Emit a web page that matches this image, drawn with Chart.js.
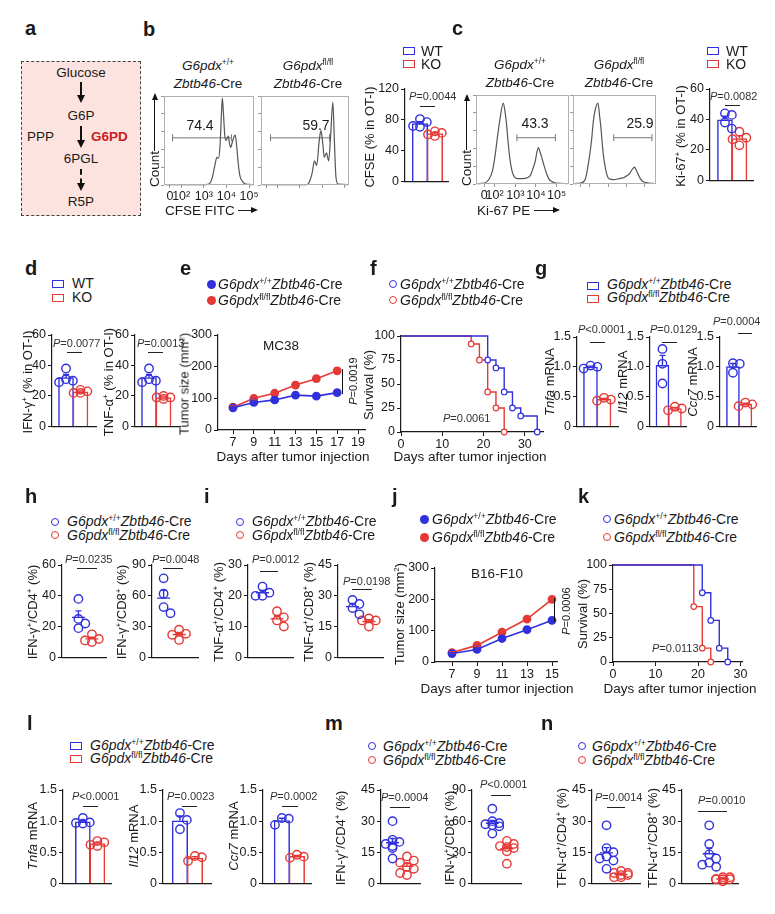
<!DOCTYPE html>
<html>
<head>
<meta charset="utf-8">
<title>G6PD deletion in cDC1 figure</title>
<script src="https://cdn.jsdelivr.net/npm/chart.js@4.4.1/dist/chart.umd.min.js"></script>
<style>
  html, body { margin: 0; padding: 0; background: #fff; }
  #fig { position: relative; width: 775px; height: 914px; overflow: hidden; background: #fff;
         font-family: 'Liberation Sans', Arial, sans-serif; color: #1a1a1a; }
  #fig sup { font-size: 0.62em; vertical-align: 0.55em; line-height: 0; }
</style>
</head>
<body>
<div id="fig"></div>
<script>
var BLUE = '#3030dc', RED = '#e53935', INK = '#1a1a1a';
var TICK_FS = 12.5;
Chart.defaults.font.family = "'Liberation Sans', Arial, sans-serif";
Chart.defaults.font.size = 13;
Chart.defaults.color = INK;

// ---- b, c : flow histograms, x in decades, y in % of max ----
var flowTicks = [1.5, 2, 3, 4, 5];
var flowTickText = ['0', '10²', '10³', '10⁴', '10⁵'];
var histTicksY = [0, 20, 40, 60, 80, 100];
var cfseWT = [[1.3,0.5],[3.1,0.5],[3.23,1],[3.37,8],[3.49,22],[3.58,31],[3.65,30],[3.72,45],[3.78,80],[3.82,98],[3.87,80],[3.93,55],[3.98,50],[4.04,53],[4.08,55],[4.14,46],[4.19,42],[4.26,48],[4.33,54],[4.39,56],[4.45,45],[4.52,25],[4.6,10],[4.71,4],[4.85,1],[5.2,0.5]];
var cfseKO = [[1.3,0.5],[3.3,0.5],[3.4,2],[3.55,13],[3.66,27],[3.76,22],[3.87,49],[3.95,61],[4.04,45],[4.1,31],[4.2,36],[4.3,27],[4.39,56],[4.49,93],[4.56,49],[4.63,9],[4.73,1],[5.2,0.5]];
var ki67WT = [[1.15,0.5],[1.5,1],[1.72,5],[1.9,15],[2.03,33],[2.15,55],[2.26,73],[2.42,91],[2.5,82],[2.57,69],[2.65,48],[2.73,30],[2.85,14],[2.96,8],[3.11,6],[3.35,6],[3.58,7],[3.74,10],[3.85,17],[3.97,26],[4.05,36],[4.12,41],[4.2,36],[4.28,30],[4.4,20],[4.51,12],[4.62,6],[4.74,3],[4.97,1],[5.5,0.5]];
var ki67KO = [[1.15,0.5],[1.5,1],[1.76,5],[1.95,25],[2.1,48],[2.2,70],[2.31,84],[2.45,91],[2.55,75],[2.62,62],[2.7,42],[2.79,26],[2.92,12],[3.05,6],[3.31,5],[3.6,6],[3.83,7],[4.0,9],[4.18,12],[4.3,16],[4.44,19],[4.52,16],[4.61,12],[4.75,6],[4.87,3],[5.21,1],[5.5,0.5]];
// gates: [from, to, height]
var gateCfseWT = [1.62, 4.22, 53], gateCfseKO = [1.67, 4.34, 53];
var gateKi67WT = [3.08, 4.94, 52], gateKi67KO = [3.31, 5.38, 52];
var gateText = ['74.4', '59.7', '43.3', '25.9'];

// ---- bar / dot panels: one value per mouse ----
var cfseBarWT = [81, 77, 72, 71], cfseBarKO = [65, 63, 61, 59];
var ki67BarWT = [44, 43, 38, 34], ki67BarKO = [32, 28, 27, 23];
var ifngOT1WT = [38, 31, 30, 29], ifngOT1KO = [24, 23, 22, 22];
var tnfaOT1WT = [38, 31, 30, 29], tnfaOT1KO = [20, 19, 19, 18];
var gTnfaWT = [1.02, 1.0, 0.97], gTnfaKO = [0.48, 0.45, 0.43];
var gIl12WT = [1.3, 1.05, 0.72], gIl12KO = [0.33, 0.30, 0.27];
var gCcr7WT = [1.06, 1.05, 0.9], gCcr7KO = [0.4, 0.37, 0.34];
var hCD4WT = [38, 25, 22, 19], hCD4KO = [15, 12, 11, 10];
var hCD8WT = [77, 62, 49, 43], hCD8KO = [27, 23, 22, 17];
var iCD4WT = [23, 21, 20, 20], iCD4KO = [15, 13, 12, 10];
var iCD8WT = [28, 26, 24, 21], iCD8KO = [19, 18, 18, 15];
var lTnfaWT = [1.05, 0.98, 0.97, 0.96], lTnfaKO = [0.68, 0.66, 0.62, 0.6];
var lIl12WT = [1.13, 1.02, 0.87], lIl12KO = [0.44, 0.42, 0.36];
var lCcr7WT = [1.05, 1.04, 0.94], lCcr7KO = [0.46, 0.43, 0.41];
var mCD4WT = [30, 21, 20, 19, 18, 17, 12], mCD4KO = [13, 11, 10, 8, 7, 5, 4];
var mCD8WT = [72, 60, 58, 57, 56, 55, 48], mCD8KO = [41, 38, 36, 35, 34, 31, 19];
var nCD4WT = [28, 17, 15, 13, 12, 11, 7], nCD4KO = [6, 5, 5, 4, 4, 3, 3];
var nCD8WT = [28, 19, 14, 12, 10, 9, 8], nCD8KO = [3, 3, 2, 2, 2, 2, 1];

// ---- e, j : tumour growth (mean, sem) ----
var mc38Days = [7, 9, 11, 13, 15, 17];
var mc38WT = [70, 87, 95, 110, 107, 118], mc38WTerr = [3, 4, 5, 4, 6, 7];
var mc38KO = [72, 100, 116, 142, 162, 187], mc38KOerr = [4, 5, 6, 8, 8, 8];
var mc38TicksX = [7, 9, 11, 13, 15, 17, 19];
var b16Days = [7, 9, 11, 13, 15];
var b16WT = [27, 40, 75, 103, 133], b16WTerr = [3, 4, 5, 8, 8];
var b16KO = [30, 53, 95, 137, 200], b16KOerr = [3, 4, 5, 6, 7];
var b16TicksX = [7, 9, 11, 13, 15];

// ---- f, k : survival ----
var fDaysWT = [0, 21, 23, 25, 27, 29, 33], fSurvWT = [100, 75, 66.7, 41.7, 25, 16.7, 0];
var fDaysKO = [0, 17, 19, 21, 23, 25], fSurvKO = [100, 91.7, 75, 41.7, 25, 0];
var kDaysWT = [0, 21, 23, 25, 27], kSurvWT = [100, 71.4, 42.9, 14.3, 0];
var kDaysKO = [0, 19, 21, 23], kSurvKO = [100, 57.1, 14.3, 0];
var survTicksX = [0, 10, 20, 30], survTicksY = [0, 25, 50, 75, 100];

// ---- y tick sets ----
var tk120 = [0, 40, 80, 120], tk60 = [0, 20, 40, 60], tk90 = [0, 30, 60, 90];
var tk30 = [0, 10, 20, 30], tk45 = [0, 15, 30, 45], tk300 = [0, 100, 200, 300];
var tk15 = [0, 0.5, 1, 1.5], tk15Text = ['0', '0.5', '1.0', '1.5'];

var fig = document.getElementById('fig');

// ---------- html helpers ----------
function el(css, html) {
  var d = document.createElement('div');
  d.style.cssText = 'position:absolute;z-index:3;' + css;
  if (html) d.innerHTML = html;
  fig.appendChild(d);
  return d;
}
function txt(x, base, html, fs, extra) {
  return el('white-space:nowrap;line-height:1;left:' + x + 'px;top:' + (base - 0.85 * fs).toFixed(1) +
    'px;font-size:' + fs + 'px;' + (extra || ''), html);
}
function ctxt(cx, base, html, fs, extra) { return txt(cx, base, html, fs, 'transform:translateX(-50%);' + (extra || '')); }
function vtxt(cx, cy, html, fs) {
  return el('white-space:nowrap;line-height:1;left:' + cx + 'px;top:' + cy + 'px;font-size:' + fs +
    'px;transform:translate(-50%,-50%) rotate(-90deg);', html);
}
function hline(x1, x2, y, w) { el('left:' + x1 + 'px;top:' + (y - w / 2) + 'px;width:' + (x2 - x1) + 'px;height:0;border-top:' + w + 'px solid #222;'); }
function vline(x, y1, y2, w, style) { el('left:' + (x - w / 2) + 'px;top:' + y1 + 'px;width:0;height:' + (y2 - y1) + 'px;border-left:' + w + 'px ' + (style || 'solid') + ' #111;'); }
function headDown(x, y) { el('left:' + (x - 4) + 'px;top:' + (y - 8) + 'px;width:0;height:0;border-left:4px solid transparent;border-right:4px solid transparent;border-top:8px solid #111;'); }
function headUp(x, y) { el('left:' + (x - 3.5) + 'px;top:' + y + 'px;width:0;height:0;border-left:3.5px solid transparent;border-right:3.5px solid transparent;border-bottom:7px solid #111;'); }
function headRight(x, y) { el('left:' + (x - 7) + 'px;top:' + (y - 3.5) + 'px;width:0;height:0;border-top:3.5px solid transparent;border-bottom:3.5px solid transparent;border-left:7px solid #111;'); }
function varrow(x, y1, y2, dashed) { vline(x, y1, y2 - 7, 2, dashed ? 'dashed' : 'solid'); headDown(x, y2); }
function pval(x, base, s) { txt(x, base, '<i>P</i>' + s, 11, 'color:#333;'); }
function letter(x, base, s) { txt(x, base, s, 20, 'font-weight:bold;'); }
function geno(sup) { return '<i>G6pdx</i><sup>' + sup + '</sup><i>Zbtb46</i>-Cre'; }
function legSq(x, y, c) { el('left:' + x + 'px;top:' + y + 'px;width:10px;height:6px;border:1.5px solid ' + c + ';'); }
function legDot(cx, cy, c, filled) {
  el('left:' + (cx - 4.5) + 'px;top:' + (cy - 4.5) + 'px;border-radius:50%;' +
    (filled ? 'width:9px;height:9px;background:' + c : 'width:6px;height:6px;border:1.5px solid ' + c) + ';');
}
function genoLegend(kind, mx, tx, y1, y2, b1, b2) {
  if (kind === 'sq') { legSq(mx, y1, BLUE); legSq(mx, y2, RED); }
  else { legDot(mx, y1, BLUE, kind === 'dot'); legDot(mx, y2, RED, kind === 'dot'); }
  txt(tx, b1, geno('+/+'), 14);
  txt(tx, b2, geno('fl/fl'), 14);
}
function wtkoLegend(mx, tx, y1, y2, b1, b2) {
  legSq(mx, y1, BLUE); legSq(mx, y2, RED);
  txt(tx, b1, 'WT', 14); txt(tx, b2, 'KO', 14);
}

// ---------- chart helpers ----------
function place(area, m) {
  var c = document.createElement('canvas');
  var w = Math.round(area[1] - area[0] + m[0] + m[1]);
  var h = Math.round(area[3] - area[2] + m[2] + m[3]);
  c.width = w; c.height = h;
  c.style.cssText = 'position:absolute;z-index:1;left:' + (area[0] - m[0]) + 'px;top:' + (area[2] - m[2]) +
    'px;width:' + w + 'px;height:' + h + 'px;';
  fig.appendChild(c);
  return c;
}
function zeroPad(s) { s.paddingLeft = 0; s.paddingRight = 0; s.paddingTop = 0; s.paddingBottom = 0; }
function baseOptions(m, scales) {
  return {
    responsive: false, animation: false, events: [],
    layout: {padding: {left: 0, right: m[1], top: m[2], bottom: 0}},
    plugins: {legend: {display: false}, tooltip: {enabled: false}},
    scales: scales
  };
}
function yAxis(ticks, labels, w, hidden) {
  return {
    type: 'linear', min: ticks[0], max: ticks[ticks.length - 1],
    afterBuildTicks: function(s) { s.ticks = ticks.map(function(v) { return {value: v}; }); },
    afterFit: function(s) { s.width = w; zeroPad(s); },
    ticks: {display: !hidden, padding: 2, color: INK, font: {size: TICK_FS}, autoSkip: false,
      callback: function(v, i) { return labels ? labels[i] : String(v); }},
    grid: {drawOnChartArea: false, drawTicks: true, tickLength: hidden ? 3 : 4, color: hidden ? '#999' : INK, lineWidth: 1},
    border: {display: !hidden, color: INK, width: 1.2}
  };
}
function xAxis(min, max, ticks, labels, h, opt) {
  opt = opt || {};
  return {
    type: 'linear', min: min, max: max, offset: false,
    afterBuildTicks: function(s) { s.ticks = ticks.map(function(v) { return {value: v}; }); },
    afterFit: function(s) { s.height = h; zeroPad(s); },
    ticks: {display: !!labels, padding: 1, color: INK, font: {size: TICK_FS}, autoSkip: false, maxRotation: 0,
      callback: function(v, i) { return labels ? labels[i] : ''; }},
    grid: {offset: false, display: !opt.noTicks, drawOnChartArea: false, drawTicks: true,
      tickLength: opt.tick || 4, color: opt.tickColor || INK, lineWidth: 1},
    border: {display: !opt.noBorder, color: INK, width: 1.2}
  };
}
function mean(a) { return a.reduce(function(s, v) { return s + v; }, 0) / a.length; }
function sem(a) {
  var m = mean(a), ss = a.reduce(function(s, v) { return s + (v - m) * (v - m); }, 0);
  return Math.sqrt(ss / (a.length - 1)) / Math.sqrt(a.length);
}
function pts(xs, ys) { return xs.map(function(x, i) { return {x: x, y: ys[i]}; }); }

// error bars / mean lines through the chart scales
function errPlugin(items, cap, meanW, both) {
  return {
    id: 'errbars',
    afterDatasetsDraw: function(chart) {
      var ctx = chart.ctx, xs = chart.scales.x, ys = chart.scales.y;
      ctx.save();
      ctx.lineWidth = 1.4;
      items.forEach(function(it) {
        var px = xs.getPixelForValue(it.x), pm = ys.getPixelForValue(it.m);
        var pt = ys.getPixelForValue(it.m + it.e), pb = ys.getPixelForValue(it.m - it.e);
        ctx.strokeStyle = it.c;
        ctx.beginPath();
        ctx.moveTo(px, both ? pb : pm); ctx.lineTo(px, pt);
        ctx.moveTo(px - cap, pt); ctx.lineTo(px + cap, pt);
        if (both) { ctx.moveTo(px - cap, pb); ctx.lineTo(px + cap, pb); }
        if (meanW) { ctx.moveTo(px - meanW, pm); ctx.lineTo(px + meanW, pm); }
        ctx.stroke();
      });
      ctx.restore();
    }
  };
}
var framePlugin = {
  id: 'frame',
  afterDraw: function(chart) {
    var a = chart.chartArea, ctx = chart.ctx;
    ctx.save();
    ctx.strokeStyle = '#b0b0b0'; ctx.lineWidth = 1;
    ctx.strokeRect(a.left + 0.5, a.top + 0.5, a.right - a.left - 1, a.bottom - a.top - 1);
    ctx.restore();
  }
};

// spread overlapping dots sideways (beeswarm)
function swarm(vals, g, ymax, plotH, unit) {
  var r = 4.2, dy = 2 * r / plotH * ymax, dx = 1.7 * r / unit;
  var tries = [0, 1, -1, 0.5, -0.5, 1.5, -1.5];
  var out = [];
  vals.slice().sort(function(a, b) { return b - a; }).forEach(function(v) {
    var best = 0, fewest = Infinity;
    for (var k = 0; k < tries.length && fewest > 0; k++) {
      var ox = tries[k] * dx, hits = 0;
      out.forEach(function(p) {
        if (Math.abs(p.y - v) < dy && Math.abs(p.x - g - ox) < dx * 0.95) hits++;
      });
      if (hits < fewest) { fewest = hits; best = ox; }
    }
    out.push({x: g + best, y: v});
  });
  return out;
}

// area = [x0, x1, yTop, yBottom] in page px, cx = centres of the two groups
function dotChart(area, cx, wt, ko, ticks, labels, bars) {
  var unit = cx[1] - cx[0];
  var xmin = (area[0] - cx[0]) / unit, xmax = (area[1] - cx[0]) / unit;
  var ymax = ticks[ticks.length - 1], plotH = area[3] - area[2];
  var m = [32, 4, 9, 2];
  var cols = [BLUE, RED], ds = [], items = [];
  [wt, ko].forEach(function(vals, g) {
    ds.push({type: 'scatter', order: 1, clip: false, data: swarm(vals, g, ymax, plotH, unit),
      pointRadius: 4.2, pointBorderWidth: 1.4, pointBorderColor: cols[g],
      pointBackgroundColor: 'rgba(255,255,255,0)'});
    items.push({x: g, m: mean(vals), e: sem(vals), c: cols[g]});
  });
  if (bars) {
    ds.push({type: 'bar', order: 2, clip: false,
      data: items.map(function(it) { return {x: it.x, y: it.m}; }),
      backgroundColor: '#fff', borderColor: cols, borderWidth: 1.5, barThickness: unit});
  }
  new Chart(place(area, m), {
    type: bars ? 'bar' : 'scatter',
    data: {datasets: ds},
    options: baseOptions(m, {
      x: xAxis(xmin, xmax, [0, 1], null, 2, {noTicks: true}),
      y: yAxis(ticks, labels, m[0])
    }),
    plugins: [errPlugin(items, 3, bars ? 0 : 6.5, false)]
  });
}

function flowChart(area, xr, curve, gate, showLabels) {
  var m = [4, 2, 2, showLabels ? 20 : 5];
  new Chart(place(area, m), {
    type: 'line',
    data: {datasets: [
      {data: curve.map(function(p) { return {x: p[0], y: p[1]}; }), borderColor: '#555',
        borderWidth: 1.2, pointRadius: 0, cubicInterpolationMode: 'monotone', clip: false},
      {data: [{x: gate[0], y: gate[2]}, {x: gate[1], y: gate[2]}], borderColor: '#777', borderWidth: 1,
        pointStyle: 'line', rotation: 90, pointRadius: 3.5, pointBorderColor: '#777', pointBorderWidth: 1, clip: false}
    ]},
    options: baseOptions(m, {
      x: xAxis(xr[0], xr[1], flowTicks, showLabels ? flowTickText : null, m[3],
        {noBorder: true, tick: 3, tickColor: '#999'}),
      y: yAxis(histTicksY, null, m[0], true)
    }),
    plugins: [framePlugin]
  });
}

function growthChart(area, xr, days, ticksX, wt, wtErr, ko, koErr) {
  var m = [34, 8, 9, 20], items = [];
  days.forEach(function(d, i) {
    items.push({x: d, m: ko[i], e: koErr[i], c: RED});
    items.push({x: d, m: wt[i], e: wtErr[i], c: BLUE});
  });
  function line(ys, c) {
    return {data: pts(days, ys), borderColor: c, backgroundColor: c, pointBackgroundColor: c,
      pointBorderColor: c, pointRadius: 3.6, borderWidth: 1.6, clip: false};
  }
  new Chart(place(area, m), {
    type: 'line',
    data: {datasets: [line(wt, BLUE), line(ko, RED)]},
    options: baseOptions(m, {
      x: xAxis(xr[0], xr[1], ticksX, ticksX.map(String), m[3]),
      y: yAxis(tk300, null, m[0])
    }),
    plugins: [errPlugin(items, 3, 0, true)]
  });
}

function survChart(area, xmax, dWT, sWT, dKO, sKO) {
  var m = [34, 6, 9, 20];
  function line(d, s, c) {
    return {data: pts(d, s), stepped: true, borderColor: c, borderWidth: 1.4, clip: false,
      pointRadius: d.map(function(v, i) { return i ? 2.8 : 0; }), pointBorderColor: c,
      pointBackgroundColor: '#fff', pointBorderWidth: 1.2};
  }
  new Chart(place(area, m), {
    type: 'line',
    data: {datasets: [line(dWT, sWT, BLUE), line(dKO, sKO, RED)]},
    options: baseOptions(m, {
      x: xAxis(0, xmax, survTicksX, survTicksX.map(String), m[3]),
      y: yAxis(survTicksY, null, m[0])
    })
  });
}

// ================= panel a =================
letter(25, 35, 'a');
el('left:21px;top:61px;width:118px;height:153px;background:#fde3e0;border:1.3px dashed #444;');
ctxt(81, 77, 'Glucose', 13.5);
varrow(81, 82, 103, false);
ctxt(81, 120, 'G6P', 13.5);
varrow(81, 126, 148, false);
ctxt(81, 163, '6PGL', 13.5);
varrow(81, 169, 191, true);
ctxt(81, 206, 'R5P', 13.5);
txt(27, 141, 'PPP', 13.5);
txt(91, 141, 'G6PD', 13.5, 'font-weight:bold;color:#c62020;');

// ================= panel b =================
letter(143, 36, 'b');
ctxt(208, 70, '<i>G6pdx</i><sup>+/+</sup>', 13.5);
ctxt(208, 88, '<i>Zbtb46</i>-Cre', 13.5);
ctxt(308, 70, '<i>G6pdx</i><sup>fl/fl</sup>', 13.5);
ctxt(308, 88, '<i>Zbtb46</i>-Cre', 13.5);
flowChart([163, 257, 93, 185], [1.24, 5.22], cfseWT, gateCfseWT, true);
flowChart([260, 352, 93, 185], [1.24, 5.22], cfseKO, gateCfseKO, false);
ctxt(200, 130, gateText[0], 14);
ctxt(316, 130, gateText[1], 14);
vtxt(155, 169, 'Count', 13.5); vline(155, 99, 151, 1.3); headUp(155, 93);
txt(165, 215, 'CFSE FITC', 13.5); hline(238, 252, 210.5, 1.3); headRight(258, 210.5);

wtkoLegend(403, 421, 47, 60, 56, 69);
dotChart([405, 450, 89, 185], [420.5, 436], cfseBarWT, cfseBarKO, tk120, null, true);
vtxt(369, 137, 'CFSE (% in OT-I)', 13);
pval(409, 100, '=0.0044'); hline(420, 435, 107, 1.3);

// ================= panel c =================
letter(452, 35, 'c');
ctxt(520, 69, '<i>G6pdx</i><sup>+/+</sup>', 13.5);
ctxt(520, 87, '<i>Zbtb46</i>-Cre', 13.5);
ctxt(619, 69, '<i>G6pdx</i><sup>fl/fl</sup>', 13.5);
ctxt(619, 87, '<i>Zbtb46</i>-Cre', 13.5);
flowChart([475, 572, 92, 184], [1.1, 5.6], ki67WT, gateKi67WT, true);
flowChart([572, 659, 92, 184], [1.1, 5.6], ki67KO, gateKi67KO, false);
ctxt(535, 128, gateText[2], 14);
ctxt(640, 128, gateText[3], 14);
vtxt(467, 168, 'Count', 13.5); vline(467, 100, 150, 1.3); headUp(467, 94);
txt(477, 215, 'Ki-67 PE', 13.5); hline(534, 554, 210.5, 1.3); headRight(560, 210.5);

wtkoLegend(707, 726, 47, 60, 56, 69);
dotChart([710, 755, 89, 184], [725.5, 740.5], ki67BarWT, ki67BarKO, tk60, null, true);
vtxt(680, 136, 'Ki-67<sup>+</sup> (% in OT-I)', 13);
pval(710, 100, '=0.0082'); hline(725, 740, 106, 1.3);

// ================= panel d =================
letter(25, 275, 'd');
wtkoLegend(52, 72, 280, 294, 288, 302);
dotChart([52, 98, 335, 430], [66.5, 81.5], ifngOT1WT, ifngOT1KO, tk60, null, true);
dotChart([135, 182, 335, 430], [149.5, 164.5], tnfaOT1WT, tnfaOT1KO, tk60, null, true);
vtxt(27, 382, 'IFN-γ<sup>+</sup> (% in OT-I)', 13);
vtxt(108, 382, 'TNF-α<sup>+</sup> (% in OT-I)', 13);
pval(53, 347, '=0.0077'); hline(67, 82, 353, 1.3);
pval(137, 347, '=0.0013'); hline(148, 163, 353, 1.3);

// ================= panel e =================
letter(180, 275, 'e');
genoLegend('dot', 211, 218, 284, 300, 289, 305);
growthChart([218, 365, 335, 430], [5.56, 19.67], mc38Days, mc38TicksX, mc38WT, mc38WTerr, mc38KO, mc38KOerr);
ctxt(281, 350, 'MC38', 13.5);
vtxt(184, 384, 'Tumor size (mm<sup>2</sup>)', 13);
ctxt(293, 461, 'Days after tumor injection', 13.5);
vline(343, 369, 394, 1.3);
vtxt(353, 381, '<i>P</i>=0.0019', 11);

// ================= panel f =================
letter(370, 275, 'f');
genoLegend('ring', 393, 400, 284, 300, 289, 305);
survChart([401, 543, 336, 432], 34.4, fDaysWT, fSurvWT, fDaysKO, fSurvKO);
vtxt(368, 385, 'Survival (%)', 13);
ctxt(470, 461, 'Days after tumor injection', 13.5);
pval(443, 422, '=0.0061');

// ================= panel g =================
letter(535, 275, 'g');
genoLegend('sq', 587, 607, 282, 295, 289, 302);
dotChart([577, 620, 337, 430], [591, 605], gTnfaWT, gTnfaKO, tk15, tk15Text, true);
dotChart([650, 688, 337, 430], [663, 676], gIl12WT, gIl12KO, tk15, tk15Text, true);
dotChart([720, 758, 337, 430], [733.5, 746.5], gCcr7WT, gCcr7KO, tk15, tk15Text, true);
vtxt(549, 382, '<i>Tnfa</i> mRNA', 13);
vtxt(622, 382, '<i>Il12</i> mRNA', 13);
vtxt(692, 382, '<i>Ccr7</i> mRNA', 13);
pval(578, 333, '<0.0001'); hline(590, 605, 343, 1.3);
pval(650, 333, '=0.0129'); hline(662, 677, 343, 1.3);
pval(713, 325, '=0.0004'); hline(738, 752, 334, 1.3);

// ================= panel h =================
letter(25, 503, 'h');
genoLegend('ring', 55, 67, 522, 535, 526, 540);
dotChart([62, 108, 565, 661], [79, 93], hCD4WT, hCD4KO, tk60, null, false);
dotChart([152, 200, 565, 661], [164, 180], hCD8WT, hCD8KO, tk90, null, false);
vtxt(32, 612, 'IFN-γ<sup>+</sup>/CD4<sup>+</sup> (%)', 13);
vtxt(121, 612, 'IFN-γ<sup>+</sup>/CD8<sup>+</sup> (%)', 13);
pval(65, 563, '=0.0235'); hline(77, 97, 569, 1.3);
pval(152, 563, '=0.0048'); hline(163, 183, 569, 1.3);

// ================= panel i =================
letter(204, 503, 'i');
genoLegend('ring', 240, 252, 522, 535, 526, 540);
dotChart([248, 295, 565, 661], [263, 278], iCD4WT, iCD4KO, tk30, null, false);
dotChart([338, 385, 565, 661], [353, 370], iCD8WT, iCD8KO, tk45, null, false);
vtxt(218, 612, 'TNF-α<sup>+</sup>/CD4<sup>+</sup> (%)', 13);
vtxt(308, 612, 'TNF-α<sup>+</sup>/CD8<sup>+</sup> (%)', 13);
pval(252, 563, '=0.0012'); hline(260, 278, 572, 1.3);
pval(343, 585, '=0.0198'); hline(352, 372, 590, 1.3);

// ================= panel j =================
letter(392, 503, 'j');
genoLegend('dot', 424, 432, 519, 537, 524, 542);
growthChart([435, 557, 568, 662], [5.64, 15.4], b16Days, b16TicksX, b16WT, b16WTerr, b16KO, b16KOerr);
ctxt(497, 578, 'B16-F10', 13.5);
vtxt(399, 614, 'Tumor size (mm<sup>2</sup>)', 13);
ctxt(497, 693, 'Days after tumor injection', 13.5);
vline(555, 598, 622, 1.3);
vtxt(566, 611, '<i>P</i>=0.0006', 11);

// ================= panel k =================
letter(578, 503, 'k');
genoLegend('ring', 607, 614, 519, 537, 524, 542);
survChart([613, 742, 565, 662], 30.35, kDaysWT, kSurvWT, kDaysKO, kSurvKO);
vtxt(582, 614, 'Survival (%)', 13);
ctxt(680, 693, 'Days after tumor injection', 13.5);
pval(652, 652, '=0.0113');

// ================= panel l =================
letter(27, 730, 'l');
genoLegend('sq', 70, 90, 742, 755, 750, 763);
dotChart([63, 113, 790, 887], [83.5, 98.5], lTnfaWT, lTnfaKO, tk15, tk15Text, true);
dotChart([163, 213, 790, 887], [180.5, 196], lIl12WT, lIl12KO, tk15, tk15Text, true);
dotChart([263, 313, 790, 887], [282.5, 298], lCcr7WT, lCcr7KO, tk15, tk15Text, true);
vtxt(32, 836, '<i>Tnfa</i> mRNA', 13);
vtxt(133, 836, '<i>Il12</i> mRNA', 13);
vtxt(233, 836, '<i>Ccr7</i> mRNA', 13);
pval(72, 800, '<0.0001'); hline(83, 98, 807, 1.3);
pval(167, 800, '=0.0023'); hline(182, 197, 807, 1.3);
pval(270, 800, '=0.0002'); hline(282, 298, 807, 1.3);

// ================= panel m =================
letter(325, 730, 'm');
genoLegend('ring', 372, 383, 746, 760, 751, 765);
dotChart([381, 422, 790, 887], [393, 408], mCD4WT, mCD4KO, tk45, null, false);
dotChart([472, 523, 790, 887], [493, 508], mCD8WT, mCD8KO, tk90, null, false);
vtxt(340, 838, 'IFN-γ<sup>+</sup>/CD4<sup>+</sup> (%)', 13);
vtxt(449, 838, 'IFN-γ<sup>+</sup>/CD8<sup>+</sup> (%)', 13);
pval(381, 801, '=0.0004'); hline(390, 410, 808, 1.3);
pval(480, 788, '<0.0001'); hline(491, 511, 796, 1.3);

// ================= panel n =================
letter(541, 730, 'n');
genoLegend('ring', 582, 592, 746, 760, 751, 765);
dotChart([592, 642, 790, 887], [607, 622], nCD4WT, nCD4KO, tk45, null, false);
dotChart([682, 740, 790, 887], [710, 724], nCD8WT, nCD8KO, tk45, null, false);
vtxt(561, 838, 'TFN-α<sup>+</sup>/CD4<sup>+</sup> (%)', 13);
vtxt(652, 838, 'TFN-α<sup>+</sup>/CD8<sup>+</sup> (%)', 13);
pval(595, 801, '=0.0014'); hline(607, 625, 808, 1.3);
pval(698, 804, '=0.0010'); hline(698, 727, 812, 1.3);
</script>
</body>
</html>
